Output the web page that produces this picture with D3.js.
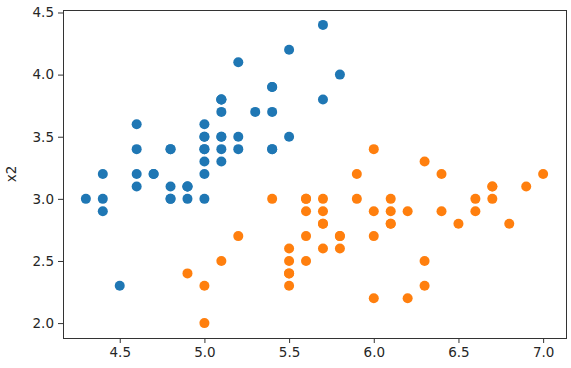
<!DOCTYPE html>
<html><head><meta charset="utf-8">
<script src="https://cdn.jsdelivr.net/npm/d3@7/dist/d3.min.js"></script>
<style>body{margin:0;background:#fff}svg{display:block}</style>
</head><body>
<script>
// Setosa (class 0) and Versicolor (class 1): x1 = sepal length, x2 = sepal width
const class0X1 = [5.1,4.9,4.7,4.6,5.0,5.4,4.6,5.0,4.4,4.9,5.4,4.8,4.8,4.3,5.8,5.7,5.4,5.1,5.7,5.1,5.4,5.1,4.6,5.1,4.8,5.0,5.0,5.2,5.2,4.7,4.8,5.4,5.2,5.5,4.9,5.0,5.5,4.9,4.4,5.1,5.0,4.5,4.4,5.0,5.1,4.8,5.1,4.6,5.3,5.0];
const class0X2 = [3.5,3.0,3.2,3.1,3.6,3.9,3.4,3.4,2.9,3.1,3.7,3.4,3.0,3.0,4.0,4.4,3.9,3.5,3.8,3.8,3.4,3.7,3.6,3.3,3.4,3.0,3.4,3.5,3.4,3.2,3.1,3.4,4.1,4.2,3.1,3.2,3.5,3.1,3.0,3.4,3.5,2.3,3.2,3.5,3.8,3.0,3.8,3.2,3.7,3.3];
const class1X1 = [7.0,6.4,6.9,5.5,6.5,5.7,6.3,4.9,6.6,5.2,5.0,5.9,6.0,6.1,5.6,6.7,5.6,5.8,6.2,5.6,5.9,6.1,6.3,6.1,6.4,6.6,6.8,6.7,6.0,5.7,5.5,5.5,5.8,6.0,5.4,6.0,6.7,6.3,5.6,5.5,5.5,6.1,5.8,5.0,5.6,5.7,5.7,6.2,5.1,5.7];
const class1X2 = [3.2,3.2,3.1,2.3,2.8,2.8,3.3,2.4,2.9,2.7,2.0,3.0,2.2,2.9,2.9,3.1,3.0,2.7,2.2,2.5,3.2,2.8,2.5,2.8,2.9,3.0,2.8,3.0,2.9,2.6,2.4,2.4,2.7,2.7,3.0,3.4,3.1,2.3,3.0,2.5,2.6,3.0,2.6,2.3,2.7,3.0,2.9,2.9,2.5,2.8];
const xTicks = [4.5,5.0,5.5,6.0,6.5,7.0];
const yTicks = [2.0,2.5,3.0,3.5,4.0,4.5];
const yLabel = "x2";
const colors = ["#1f77b4","#ff7f0e"];

const W = 571, H = 368;
const m = {left:63, right:5, top:10, bottom:30};
const svg = d3.select("body").append("svg").attr("width",W).attr("height",H);
const x = d3.scaleLinear().domain([4.165,7.135]).range([m.left, W-m.right]);
const y = d3.scaleLinear().domain([1.88,4.52]).range([H-m.bottom, m.top]);

const series = [
  class0X1.map((v,i)=>({x:v,y:class0X2[i]})),
  class1X1.map((v,i)=>({x:v,y:class1X2[i]}))
];
series.forEach((pts,k)=>{
  svg.append("g").selectAll("circle").data(pts).join("circle")
    .attr("cx",d=>x(d.x)).attr("cy",d=>y(d.y)).attr("r",5)
    .attr("fill",colors[k]);
});

const font = "DejaVu Sans, sans-serif";
const fs = "13.5px";
const xa = svg.append("g").attr("transform",`translate(0,${H-m.bottom})`)
  .call(d3.axisBottom(x).tickValues(xTicks).tickFormat(d3.format(".1f")).tickSize(5).tickPadding(4));
const ya = svg.append("g").attr("transform",`translate(${m.left},0)`)
  .call(d3.axisLeft(y).tickValues(yTicks).tickFormat(d3.format(".1f")).tickSize(5).tickPadding(4));
[xa,ya].forEach(a=>{
  a.select(".domain").remove();
  a.selectAll("line").attr("stroke","#333");
  a.selectAll("text").attr("font-family",font).attr("font-size",fs).attr("fill","#262626");
});
svg.append("rect").attr("x",m.left).attr("y",m.top)
  .attr("width",W-m.right-m.left).attr("height",H-m.bottom-m.top)
  .attr("fill","none").attr("stroke","#333").attr("stroke-width",1).attr("shape-rendering","crispEdges");
svg.append("text").attr("transform",`translate(16,${(m.top+H-m.bottom)/2}) rotate(-90)`)
  .attr("text-anchor","middle").attr("font-family",font).attr("font-size",fs).attr("fill","#262626")
  .text(yLabel);
</script>
</body></html>
